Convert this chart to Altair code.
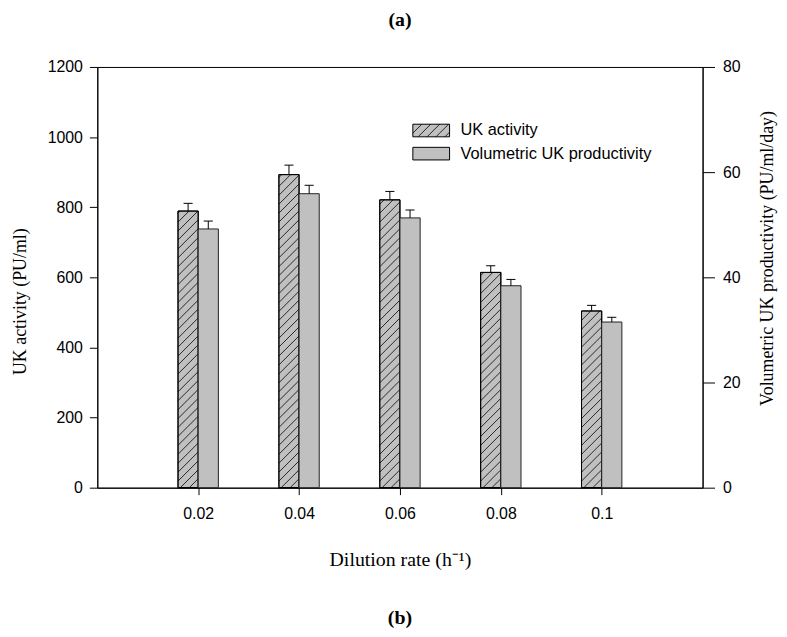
import altair as alt
import pandas as pd

# ---- data ----
dilution = [0.02, 0.04, 0.06, 0.08, 0.1]
uk_activity = [789, 893, 821, 614, 504]
uk_activity_err = [22, 27, 24, 19, 16]
productivity = [49.2, 55.9, 51.3, 38.4, 31.5]
productivity_err = [1.5, 1.6, 1.5, 1.2, 0.9]
series = ["UK activity", "Volumetric UK productivity"]
x_ticks = [0.02, 0.04, 0.06, 0.08, 0.1]
left_ticks = [0, 200, 400, 600, 800, 1000, 1200]
right_ticks = [0, 20, 40, 60, 80]

# ---- layout constants ----
W, H = 610, 424
X_DOMAIN = [0, 0.12]
L_DOMAIN = [0, 1200]
R_DOMAIN = [0, 80]
BAR_W = 0.004
CAP_HALF = 0.0009
GREY = "#c0c0c0"
SANS = "Liberation Sans"
SERIF = "Liberation Serif"

df = pd.DataFrame({
    "D": dilution,
    "act": uk_activity,
    "act_err": uk_activity_err,
    "prod": productivity,
    "prod_err": productivity_err,
})

base = alt.Chart(df).transform_calculate(
    a_lo=f"datum.D - {BAR_W}",
    a_hi="datum.D",
    a_mid=f"datum.D - {BAR_W / 2}",
    a_top="datum.act + datum.act_err",
    a_cl=f"datum.D - {BAR_W / 2} - {CAP_HALF}",
    a_ch=f"datum.D - {BAR_W / 2} + {CAP_HALF}",
    p_lo="datum.D",
    p_hi=f"datum.D + {BAR_W}",
    p_mid=f"datum.D + {BAR_W / 2}",
    p_top="datum.prod + datum.prod_err",
    p_cl=f"datum.D + {BAR_W / 2} - {CAP_HALF}",
    p_ch=f"datum.D + {BAR_W / 2} + {CAP_HALF}",
    zero="0",
)

xscale = alt.Scale(domain=X_DOMAIN, nice=False, zero=False)
lscale = alt.Scale(domain=L_DOMAIN, nice=False)
rscale = alt.Scale(domain=R_DOMAIN, nice=False)

x_axis = alt.Axis(
    orient="bottom", values=x_ticks, format=".2~f", title="Dilution rate (h⁻¹)",
    tickSize=7, labelPadding=11, titleFont=SERIF, titleFontSize=20,
    titleFontWeight="normal", titleBaseline="alphabetic", titleY=78,
)
l_axis = alt.Axis(
    orient="left", values=left_ticks, format="d", title="UK activity (PU/ml)",
    tickSize=8, labelPadding=7, titleFont=SERIF, titleFontSize=18,
    titleFontWeight="normal", titleAngle=270, titleBaseline="middle",
    titleAlign="center", titleX=-77.5, titleY=236,
)
r_axis = alt.Axis(
    orient="right", values=right_ticks, format="d",
    title="Volumetric UK productivity (PU/ml/day)",
    tickSize=12, labelPadding=8, titleFont=SERIF, titleFontSize=18,
    titleFontWeight="normal", titleAngle=270, titleBaseline="middle",
    titleAlign="center", titleX=65.5, titleY=192.5,
)


def X(field):
    return alt.X(field, scale=xscale, axis=x_axis)


# ---- hatched bars (UK activity, left axis) ----
act_bars = base.mark_rect(fill=GREY, stroke="black", strokeWidth=1).encode(
    x=X("a_lo:Q"),
    x2="a_hi:Q",
    y=alt.Y("act:Q", scale=lscale, axis=l_axis),
    y2="zero:Q",
)

# hatch lines derived from the bar values
px_x = W / (X_DOMAIN[1] - X_DOMAIN[0])
px_y = H / (L_DOMAIN[1] - L_DOMAIN[0])
step = 9.0
rows = []
for d, v in zip(dilution, uk_activity):
    bw = BAR_W * px_x
    hp = v * px_y
    xl = d - BAR_W
    c = -bw
    while c < hp:
        t0 = max(0.0, -c)
        t1 = min(bw, hp - c)
        if t1 > t0:
            rows.append({
                "hx": xl + t0 / px_x, "hy": (c + t0) / px_y,
                "hx2": xl + t1 / px_x, "hy2": (c + t1) / px_y,
            })
        c += step
hatch_df = pd.DataFrame(rows)

hatch = alt.Chart(hatch_df).mark_rule(color="black", strokeWidth=0.8).encode(
    x=X("hx:Q"),
    x2="hx2:Q",
    y=alt.Y("hy:Q", scale=lscale, axis=None),
    y2="hy2:Q",
)

act_outline = base.mark_rect(fill=None, stroke="black", strokeWidth=1).encode(
    x=X("a_lo:Q"),
    x2="a_hi:Q",
    y=alt.Y("act:Q", scale=lscale, axis=None),
    y2="zero:Q",
)

act_err = base.mark_rule(color="black", strokeWidth=1).encode(
    x=X("a_mid:Q"),
    y=alt.Y("act:Q", scale=lscale, axis=None),
    y2="a_top:Q",
)
act_cap = base.mark_rule(color="black", strokeWidth=1).encode(
    x=X("a_cl:Q"),
    x2="a_ch:Q",
    y=alt.Y("a_top:Q", scale=lscale, axis=None),
)

# ---- grey bars (productivity, right axis) ----
prod_bars = base.mark_rect(fill=GREY, stroke="#222222", strokeWidth=1).encode(
    x=X("p_lo:Q"),
    x2="p_hi:Q",
    y=alt.Y("prod:Q", scale=rscale, axis=r_axis),
    y2="zero:Q",
)
prod_err = base.mark_rule(color="black", strokeWidth=1).encode(
    x=X("p_mid:Q"),
    y=alt.Y("prod:Q", scale=rscale, axis=None),
    y2="p_top:Q",
)
prod_cap = base.mark_rule(color="black", strokeWidth=1).encode(
    x=X("p_cl:Q"),
    x2="p_ch:Q",
    y=alt.Y("p_top:Q", scale=rscale, axis=None),
)

# ---- legend (drawn in pixel space, scale=None) ----
LX, LY, SW, SH, ROW = 318, 57.7, 37, 12.7, 23.3
leg = pd.DataFrame({"series": series, "row": [0, 1]})
leg["px0"] = LX
leg["px1"] = LX + SW
leg["py0"] = LY + leg["row"] * ROW
leg["py1"] = leg["py0"] + SH
leg["pyc"] = leg["py0"] + SH / 2
leg["tx"] = LX + SW + 11

leg_rect = alt.Chart(leg).mark_rect(fill=GREY, stroke="black", strokeWidth=1).encode(
    x=alt.X("px0:Q", scale=None), x2="px1:Q",
    y=alt.Y("py0:Q", scale=None), y2="py1:Q",
)
leg_text = alt.Chart(leg).mark_text(
    font=SANS, fontSize=16.5, align="left", baseline="middle", color="black"
).encode(
    x=alt.X("tx:Q", scale=None), y=alt.Y("pyc:Q", scale=None), text="series:N"
)

lrows = []
y_top, y_bot = LY, LY + SH
a = LX - SH
while a < LX + SW:
    x0, y0, x1, y1 = a, y_bot, a + SH, y_top
    if x0 < LX:
        t = LX - x0
        x0, y0 = LX, y_bot - t
    if x1 > LX + SW:
        t = x1 - (LX + SW)
        x1, y1 = LX + SW, y_top + t
    if x1 > x0:
        lrows.append({"lx": x0, "ly": y0, "lx2": x1, "ly2": y1})
    a += 9.0
leg_hatch = alt.Chart(pd.DataFrame(lrows)).mark_rule(
    color="black", strokeWidth=0.8
).encode(
    x=alt.X("lx:Q", scale=None), x2="lx2:Q",
    y=alt.Y("ly:Q", scale=None), y2="ly2:Q",
)

# ---- panel labels ----
text_a = alt.Chart(pd.DataFrame({"t": ["(a)"]})).mark_text(
    font=SERIF, fontSize=20, fontWeight="bold", baseline="alphabetic",
    align="center", color="black",
).encode(x=alt.value(W / 2), y=alt.value(-41), text="t:N")
text_b = alt.Chart(pd.DataFrame({"t": ["(b)"]})).mark_text(
    font=SERIF, fontSize=20, fontWeight="bold", baseline="alphabetic",
    align="center", color="black",
).encode(x=alt.value(W / 2), y=alt.value(561), text="t:N")

chart = alt.layer(
    act_bars, hatch, act_outline, act_err, act_cap,
    prod_bars, prod_err, prod_cap,
    leg_rect, leg_hatch, leg_text, text_a, text_b,
).resolve_scale(
    y="independent"
).properties(
    width=W, height=H,
    autosize=alt.AutoSizeParams(type="none"),
    padding={"left": 90, "top": 57, "right": 77, "bottom": 141},
    background="white",
).configure_view(
    stroke="black", strokeWidth=1
).configure_axis(
    grid=False, domainColor="black", domainWidth=1, tickColor="black",
    tickWidth=1, labelColor="black", titleColor="black",
    labelFont=SANS, labelFontSize=16, labelFlush=False, labelOverlap=False,
)

chart.save("out.html", embed_options={"renderer": "svg", "actions": False})
